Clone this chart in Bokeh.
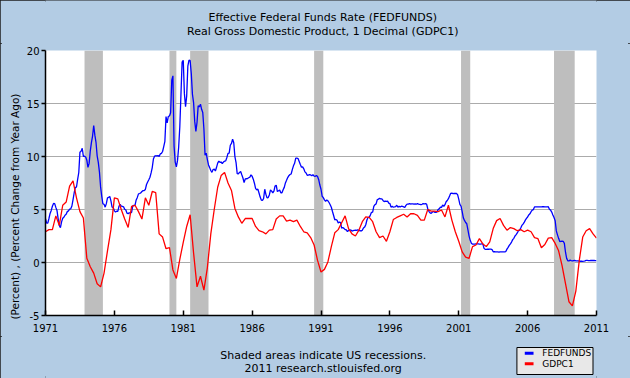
import math
from bokeh.plotting import figure
from bokeh.layouts import column
from bokeh.models import Range1d, FixedTicker, Label, Title
from bokeh.embed import file_html
from bokeh.resources import INLINE

# ---------------- data ----------------
title_lines = ["Effective Federal Funds Rate (FEDFUNDS)",
               "Real Gross Domestic Product, 1 Decimal (GDPC1)"]
y_axis_label = "(Percent) , (Percent Change from Year Ago)"
footnote_lines = ["Shaded areas indicate US recessions.",
                  "2011 research.stlouisfed.org"]
series_names = ["FEDFUNDS", "GDPC1"]
series_colors = ["#0000FF", "#FF0000"]

x_ticks = [1971, 1976, 1981, 1986, 1991, 1996, 2001, 2006, 2011]
y_ticks = [-5, 0, 5, 10, 15, 20]
y_tick_labels = ["-5", "0", "5", "10", "15", "20"]

X_MIN, X_MAX = 1971, 2011
Y_MIN, Y_MAX = -5, 20

# NBER recessions (decimal years, month starts)
recession_start = [1973 + 10/12, 1980 + 0/12, 1981 + 6/12, 1990 + 6/12, 2001 + 2/12, 2007 + 11/12]
recession_end = [1975 + 2/12, 1980 + 6/12, 1982 + 10/12, 1991 + 2/12, 2001 + 10/12, 2009 + 5/12]

# FEDFUNDS, monthly, Jan 1971 - Jan 2011 (percent)
fedfunds_start = 1971
fedfunds = [
    4.14, 3.72, 3.71, 4.15, 4.63, 4.91, 5.31, 5.57, 5.55, 5.20, 4.91, 4.14,
    3.50, 3.29, 3.83, 4.17, 4.27, 4.46, 4.55, 4.80, 4.87, 5.04, 5.06, 5.33,
    5.94, 6.58, 7.09, 7.12, 7.84, 8.49, 10.40, 10.50, 10.78, 10.01, 10.03, 9.95,
    9.65, 8.97, 9.35, 10.51, 11.31, 11.93, 12.92, 12.01, 11.34, 10.06, 9.45, 8.53,
    7.13, 6.24, 5.54, 5.49, 5.22, 5.55, 6.10, 6.14, 6.24, 5.82, 5.22, 5.20,
    4.87, 4.77, 4.84, 4.82, 5.29, 5.48, 5.31, 5.29, 5.25, 5.03, 4.95, 4.65,
    4.61, 4.68, 4.69, 4.73, 5.35, 5.39, 5.42, 5.90, 6.14, 6.47, 6.51, 6.56,
    6.70, 6.78, 6.79, 6.89, 7.36, 7.60, 7.81, 8.04, 8.45, 8.96, 9.76, 10.03,
    10.07, 10.06, 10.09, 10.01, 10.24, 10.29, 10.47, 10.94, 11.43, 13.77, 13.18, 13.78,
    13.82, 14.13, 17.19, 17.61, 10.98, 9.47, 9.03, 9.61, 10.87, 12.81, 15.85, 18.90,
    19.08, 15.93, 14.70, 15.72, 18.52, 19.10, 19.04, 17.82, 15.87, 15.08, 13.31, 12.37,
    13.22, 14.78, 14.68, 14.94, 14.45, 14.15, 12.59, 10.12, 10.31, 9.71, 9.20, 8.95,
    8.68, 8.51, 8.77, 8.80, 8.63, 8.98, 9.37, 9.56, 9.45, 9.48, 9.34, 9.47,
    9.56, 9.59, 9.91, 10.29, 10.32, 11.06, 11.23, 11.64, 11.30, 9.99, 9.43, 8.38,
    8.35, 8.50, 8.58, 8.27, 7.97, 7.53, 7.88, 7.90, 7.92, 7.99, 8.05, 8.27,
    8.14, 7.86, 7.48, 6.99, 6.85, 6.92, 6.56, 6.17, 5.89, 5.85, 6.04, 6.91,
    6.43, 6.10, 6.13, 6.37, 6.85, 6.73, 6.58, 6.73, 7.22, 7.29, 6.69, 6.77,
    6.83, 6.58, 6.58, 6.87, 7.09, 7.51, 7.75, 8.01, 8.19, 8.30, 8.35, 8.76,
    9.12, 9.36, 9.85, 9.84, 9.81, 9.53, 9.24, 8.99, 9.02, 8.84, 8.55, 8.45,
    8.23, 8.24, 8.28, 8.26, 8.18, 8.29, 8.15, 8.13, 8.20, 8.11, 7.81, 7.31,
    6.91, 6.25, 6.12, 5.91, 5.78, 5.90, 5.82, 5.66, 5.45, 5.21, 4.81, 4.43,
    4.03, 4.06, 3.98, 3.73, 3.82, 3.76, 3.25, 3.30, 3.22, 3.10, 3.09, 2.92,
    3.02, 3.03, 3.07, 2.96, 3.00, 3.04, 3.06, 3.03, 3.09, 2.99, 3.02, 2.96,
    3.05, 3.25, 3.34, 3.56, 4.01, 4.25, 4.26, 4.47, 4.73, 4.76, 5.29, 5.45,
    5.53, 5.92, 5.98, 6.05, 6.01, 6.00, 5.85, 5.74, 5.80, 5.76, 5.80, 5.60,
    5.56, 5.22, 5.31, 5.22, 5.24, 5.27, 5.40, 5.22, 5.30, 5.24, 5.31, 5.29,
    5.25, 5.19, 5.39, 5.51, 5.50, 5.56, 5.52, 5.54, 5.54, 5.50, 5.52, 5.50,
    5.56, 5.51, 5.49, 5.45, 5.49, 5.56, 5.54, 5.55, 5.51, 5.07, 4.83, 4.68,
    4.63, 4.76, 4.81, 4.74, 4.74, 4.76, 4.99, 5.07, 5.22, 5.20, 5.42, 5.30,
    5.45, 5.73, 5.85, 6.02, 6.27, 6.53, 6.54, 6.50, 6.52, 6.51, 6.51, 6.40,
    5.98, 5.49, 5.31, 4.80, 4.21, 3.97, 3.77, 3.65, 3.07, 2.49, 2.09, 1.82,
    1.73, 1.74, 1.73, 1.75, 1.75, 1.75, 1.73, 1.74, 1.75, 1.75, 1.34, 1.24,
    1.24, 1.26, 1.25, 1.26, 1.26, 1.22, 1.01, 1.03, 1.01, 1.01, 1.00, 0.98,
    1.00, 1.01, 1.00, 1.00, 1.00, 1.03, 1.26, 1.43, 1.61, 1.76, 1.93, 2.16,
    2.28, 2.50, 2.63, 2.79, 3.00, 3.04, 3.26, 3.50, 3.62, 3.78, 4.00, 4.16,
    4.29, 4.49, 4.59, 4.79, 4.94, 4.99, 5.24, 5.25, 5.25, 5.25, 5.25, 5.24,
    5.25, 5.26, 5.26, 5.25, 5.25, 5.25, 5.26, 5.02, 4.94, 4.76, 4.49, 4.24,
    3.94, 2.98, 2.61, 2.28, 1.98, 2.00, 2.01, 2.00, 1.81, 0.97, 0.39, 0.16,
    0.15, 0.22, 0.18, 0.15, 0.18, 0.21, 0.16, 0.16, 0.15, 0.12, 0.12, 0.12,
    0.11, 0.13, 0.16, 0.20, 0.20, 0.18, 0.18, 0.19, 0.19, 0.19, 0.19, 0.18,
    0.17,
]

# GDPC1, percent change from year ago, quarterly, 1971Q1 - 2011Q1
gdpc1_start = 1971
gdpc1 = [
    2.9, 3.1, 3.1, 4.4,
    3.5, 5.4, 5.7, 7.2,
    7.7, 6.1, 4.8, 4.2,
    0.4, -0.4, -1.0, -2.0,
    -2.3, -1.0, 1.1, 3.1,
    6.1, 6.0, 5.0, 4.1,
    3.3, 5.3, 5.4, 4.8,
    4.1, 6.1, 5.4, 6.7,
    6.6, 2.7, 2.4, 1.3,
    1.4, -0.7, -1.5, 0.3,
    1.9, 3.4, 4.5, 0.9,
    -2.3, -1.3, -2.6, -0.5,
    2.7, 5.0, 7.1, 8.2,
    8.5, 7.5, 6.8, 5.1,
    4.3, 3.7, 4.15, 4.15,
    4.15, 3.4, 3.0, 2.9,
    2.7, 3.05, 3.1, 4.1,
    4.4, 4.4, 3.9, 4.0,
    3.85, 4.0, 3.4, 2.9,
    2.8, 2.35, 1.65, 0.2,
    -0.9, -0.65, 0.05, 1.5,
    2.8, 3.1, 3.75, 4.4,
    3.2, 2.7, 2.5, 3.05,
    3.85, 4.3, 4.25, 3.85,
    2.9, 2.35, 2.5, 2.0,
    2.9, 4.05, 4.25, 4.4,
    4.55, 4.3, 4.6, 4.6,
    4.45, 4.0, 4.0, 5.0,
    4.85, 4.85, 4.8, 4.95,
    4.3, 5.4, 4.0, 2.9,
    2.0, 1.0, 0.5, 0.4,
    1.5, 1.65, 2.25, 1.75,
    1.5, 1.95, 3.2, 3.95,
    4.15, 3.5, 3.05, 3.3,
    3.2, 3.0, 3.1, 2.9,
    3.05, 2.9, 2.35, 2.25,
    1.4, 1.7, 2.3, 2.35,
    1.8, 1.1, -0.3, -2.0,
    -3.7, -4.1, -2.7, 0.2,
    2.4, 3.0, 3.2, 2.7,
    2.3,
]

fed_x = [fedfunds_start + i / 12 for i in range(len(fedfunds))]
gdp_x = [gdpc1_start + i / 4 for i in range(len(gdpc1))]

# ---------------- layout / style ----------------
W, H_TOTAL = 630, 378
H_HEAD = 43
ML, MR, MT, MB = 45, 34, 7, 21
FRAME_H = 265
H_MAIN = MT + FRAME_H + MB
H_FOOT = H_TOTAL - H_HEAD - H_MAIN
BG = "#B3CCE4"
FONT = "DejaVu Sans"


def banner(height):
    """A plain strip in pixel coordinates (y measured upward)."""
    b = figure(width=W, height=height, x_range=Range1d(0, W), y_range=Range1d(0, height),
               output_backend="svg", toolbar_location=None, title=None,
               x_axis_type=None, y_axis_type=None,
               min_border_left=0, min_border_right=0, min_border_top=0, min_border_bottom=0,
               background_fill_color=BG, border_fill_color=BG, outline_line_color=None)
    b.xgrid.visible = False
    b.ygrid.visible = False
    return b


# ---- header (two-line title)
head = banner(H_HEAD)
for text, top_px in zip(title_lines, [17, 31]):
    head.add_layout(Label(x=317, y=H_HEAD - top_px, text=text, text_align="center",
                          text_baseline="middle", text_font=FONT,
                          text_font_size="11px", text_color="black"))

# ---- main chart
p = figure(width=W, height=H_MAIN,
           x_range=Range1d(X_MIN, X_MAX), y_range=Range1d(Y_MIN, Y_MAX),
           output_backend="svg", toolbar_location=None, title=None,
           min_border_left=ML, min_border_right=MR,
           min_border_top=MT, min_border_bottom=MB,
           background_fill_color="white", border_fill_color=BG,
           outline_line_color=None)

p.xgrid.visible = False
p.ygrid.ticker = FixedTicker(ticks=y_ticks)
p.ygrid.grid_line_color = "#ABABAB"
p.ygrid.grid_line_width = 1

xa = p.xaxis[0]
xa.ticker = FixedTicker(ticks=x_ticks)
xa.major_tick_in = 5
xa.major_tick_out = 0
xa.minor_tick_line_color = None
xa.axis_line_color = "black"
xa.axis_line_width = 1.5
xa.major_tick_line_color = "black"
xa.major_tick_line_width = 1.5
xa.major_label_standoff = 8
xa.major_label_text_font = FONT
xa.major_label_text_font_size = "10px"
xa.major_label_text_color = "black"

ya = p.yaxis[0]
ya.ticker = FixedTicker(ticks=y_ticks)
ya.major_label_overrides = {t: s for t, s in zip(y_ticks, y_tick_labels)}
ya.major_tick_in = 0
ya.major_tick_out = 4
ya.minor_tick_line_color = None
ya.axis_line_color = "black"
ya.axis_line_width = 1.5
ya.major_tick_line_color = "black"
ya.major_tick_line_width = 1.5
ya.major_label_standoff = 2
ya.major_label_text_font = FONT
ya.major_label_text_font_size = "10px"
ya.major_label_text_color = "black"

p.quad(left=recession_start, right=recession_end, bottom=Y_MIN, top=Y_MAX,
       fill_color="#BEBEBE", line_color=None)

p.line(fed_x, fedfunds, line_color=series_colors[0], line_width=1.3)
p.line(gdp_x, gdpc1, line_color=series_colors[1], line_width=1.3)

p.add_layout(Title(text=y_axis_label, align="left", offset=-4, text_font=FONT,
                   text_font_size="10.5px", text_font_style="normal",
                   text_color="black", standoff=6), "left")

# ---- footer (footnote + legend box)
foot = banner(H_FOOT)
for text, top_px in zip(footnote_lines, [19, 32]):
    foot.add_layout(Label(x=317.5, y=H_FOOT - top_px, text=text, text_align="center",
                          text_baseline="middle", text_font=FONT,
                          text_font_size="11px", text_color="black"))

LEG_L, LEG_R, LEG_TOP, LEG_BOT = 539, 626, 11, 38          # pixel box (from footer top)
foot.quad(left=[LEG_L], right=[LEG_R], top=[H_FOOT - LEG_TOP], bottom=[H_FOOT - LEG_BOT],
          fill_color="#E8E8E8", line_color="black", line_width=1)
for name, color, row_px in zip(series_names, series_colors, [16.7, 27.3]):
    yy = H_FOOT - row_px
    foot.segment(x0=[LEG_L + 9], x1=[LEG_L + 19], y0=[yy], y1=[yy],
                 line_color=color, line_width=3)
    foot.add_layout(Label(x=LEG_L + 29, y=yy, text=name, text_align="left",
                          text_baseline="middle", text_font=FONT,
                          text_font_size="9px", text_color="black"))

layout = column(head, p, foot, spacing=0,
                styles={"background-color": BG,
                        "outline": "2px solid #1E1E1E", "outline-offset": "-2px"})

open("out.html", "w").write(file_html(layout, INLINE))
